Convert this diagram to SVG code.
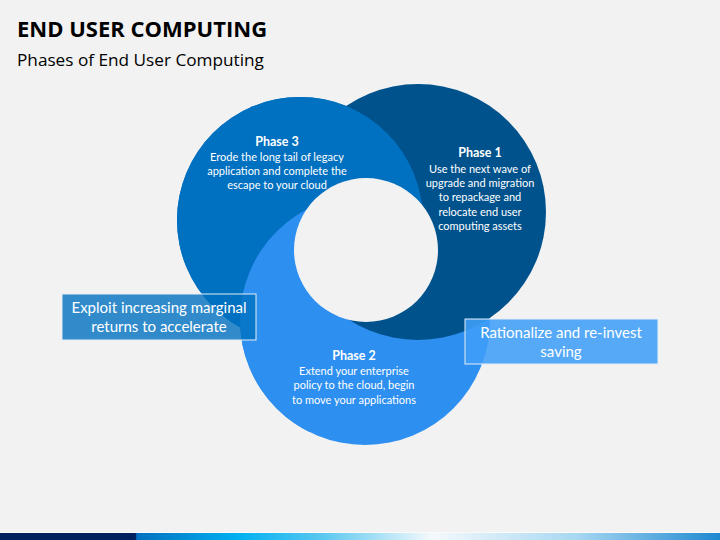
<svg xmlns="http://www.w3.org/2000/svg" width="720" height="540" viewBox="0 0 720 540">
<style>
.t{font-family:Lato,"Open Sans","Liberation Sans",sans-serif;fill:#fff;text-anchor:middle}
.h{font-size:12.5px;font-weight:bold}
.b{font-size:11px}
.bx{font-size:15px}
.ttl{font-family:"Open Sans",Lato,"Liberation Sans",sans-serif;fill:#000}
</style>
<defs>
<linearGradient id="bar" x1="0" y1="0" x2="720" y2="0" gradientUnits="userSpaceOnUse">
<stop offset="0" stop-color="#002060"/>
<stop offset="0.188" stop-color="#002060"/>
<stop offset="0.19" stop-color="#0070c0"/>
<stop offset="0.33" stop-color="#00b0f0"/>
<stop offset="0.45" stop-color="#5cc8f0"/>
<stop offset="0.6" stop-color="#f5f9fc"/>
<stop offset="0.8" stop-color="#a8d8f2"/>
<stop offset="1" stop-color="#1e88d0"/>
</linearGradient>
<clipPath id="upper">
<polygon points="170,80 560,80 560,232 310,214 310,540 170,540"/>
</clipPath>
<clipPath id="left">
<rect x="0" y="0" width="310" height="540"/>
</clipPath>
</defs>
<rect width="720" height="540" fill="#f2f2f2"/>
<text class="ttl" x="17" y="37" font-size="22" font-weight="bold">END USER COMPUTING</text>
<text class="ttl" x="17" y="66" font-size="17.2">Phases of End User Computing</text>
<g id="phase3-shape"><circle cx="300" cy="220" r="123" fill="#0070c0"/></g>
<g id="phase2-shape"><circle cx="365" cy="320" r="125" fill="#2d8ff0"/></g>
<g id="phase1-shape"><circle cx="418" cy="212" r="128" fill="#00528c"/></g>
<g id="phase3-overlap"><circle cx="300" cy="220" r="123" fill="#0070c0" clip-path="url(#upper)"/></g>
<g id="phase2-overlap"><circle cx="365" cy="320" r="125" fill="#2d8ff0" clip-path="url(#left)"/></g>
<g id="center"><circle cx="366" cy="250" r="72" fill="#f2f2f2"/></g>
<g id="phase3">
<text class="t h" x="277" y="146">Phase 3</text>
<text class="t b" x="277" y="161">Erode the long tail of legacy</text>
<text class="t b" x="277" y="175">application and complete the</text>
<text class="t b" x="277" y="189">escape to your cloud</text>
</g>
<g id="phase1">
<text class="t h" x="480" y="157">Phase 1</text>
<text class="t b" x="480" y="173">Use the next wave of</text>
<text class="t b" x="480" y="187">upgrade and migration</text>
<text class="t b" x="480" y="201">to repackage and</text>
<text class="t b" x="480" y="216">relocate end user</text>
<text class="t b" x="480" y="230">computing assets</text>
</g>
<g id="phase2">
<text class="t h" x="354" y="360">Phase 2</text>
<text class="t b" x="354" y="375">Extend  your enterprise</text>
<text class="t b" x="354" y="389">policy to the cloud, begin</text>
<text class="t b" x="354" y="404">to move your applications</text>
</g>
<g id="exploit">
<rect x="62" y="294" width="194" height="46" fill="#0070c0" fill-opacity="0.8" stroke="#e6eef6" stroke-width="1"/>
<text class="t bx" x="159" y="313">Exploit increasing marginal</text>
<text class="t bx" x="159" y="332">returns to accelerate</text>
</g>
<g id="rationalize">
<rect x="465" y="319" width="193" height="45" fill="#3f9ef7" fill-opacity="0.88" stroke="#e6eef6" stroke-width="1"/>
<text class="t bx" x="561" y="338">Rationalize and re-invest</text>
<text class="t bx" x="561" y="357">saving</text>
</g>
<rect x="0" y="532" width="720" height="1" fill="#fafafa"/>
<rect x="0" y="533" width="720" height="7" fill="url(#bar)"/>
</svg>
